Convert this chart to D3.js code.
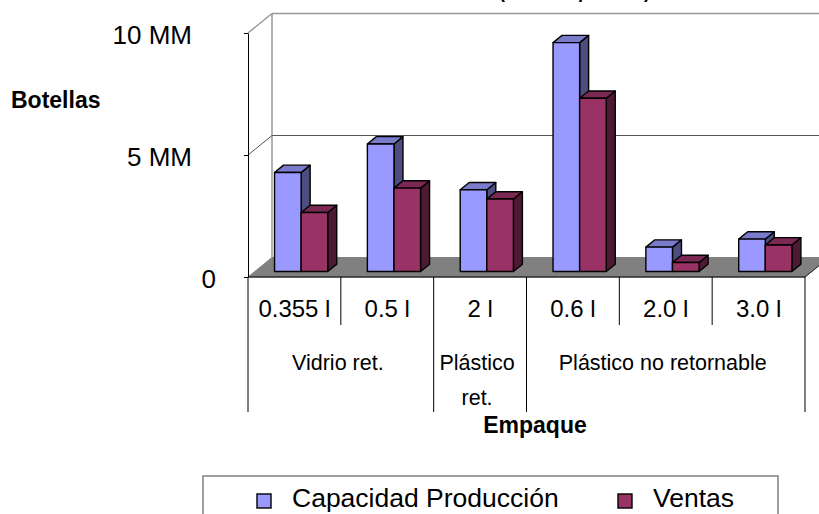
<!DOCTYPE html>
<html>
<head>
<meta charset="utf-8">
<script src="https://cdn.jsdelivr.net/npm/d3@7"></script>
<style>
  html, body { margin: 0; padding: 0; background: #fff; }
  svg { display: block; font-family: "Liberation Sans", Arial, sans-serif; }
</style>
</head>
<body>
<svg id="chart" width="819" height="514"></svg>
<script>
// Packaging formats (level 1) and their packaging families (level 2)
const categories = ["0.355 l", "0.5 l", "2 l", "0.6 l", "2.0 l", "3.0 l"];
const groupLabels = [["Vidrio ret."], ["Plástico", "ret."], ["Plástico no retornable"]];
const groupSpans = [2, 1, 3];

// Bottles per year
const seriesNames = ["Capacidad Producción", "Ventas"];
const capacidad = [4060000, 5230000, 3350000, 9380000, 1000000, 1330000];
const ventas = [2420000, 3420000, 2970000, 7100000, 370000, 1090000];

const yTicks = [0, 5000000, 10000000];

const FONT = "'Liberation Sans', Arial, sans-serif";
const seriesColors = {
  "Capacidad Producción": { front: "#9999ff", top: "#7b7bcc", side: "#4d4d80" },
  "Ventas": { front: "#993366", top: "#7a2952", side: "#4d1a33" }
};

const svg = d3.select("#chart");

// Front plane scales plus an oblique depth vector for the 3-D look
const x = d3.scaleBand().domain(categories).range([248, 805]).padding(0);
const xs = d3.scaleBand().domain(seriesNames).range([0, x.bandwidth()])
  .paddingInner(0).paddingOuter(0.745);
const y = d3.scaleLinear().domain([0, 10000000]).range([277, 33]);
const DX = 24, DY = -19.5;          // full floor depth
const F0 = 0.28, F1 = 0.655;        // bar front / back depth fraction

const proj = (px, v, f) => [px + f * DX, y(v) + f * DY];

// Chart title (runs off the top edge)
svg.append("text")
  .attr("x", 650).attr("y", -2.5)
  .attr("text-anchor", "end")
  .attr("font-size", 18).attr("font-weight", "bold")
  .text("Ventas anuales (botellas por año)");

// Back wall and left wall outlines
const x0 = x.range()[0], x1 = x.range()[1];
const wallTop = y(10000000) + DY;
svg.append("line")
  .attr("x1", x0 + DX).attr("y1", wallTop).attr("x2", x1 + DX).attr("y2", wallTop)
  .attr("stroke", "#999").attr("stroke-width", 1.5);
svg.append("line")
  .attr("x1", x0 + DX).attr("y1", wallTop).attr("x2", x0 + DX).attr("y2", y(0) + DY)
  .attr("stroke", "#999").attr("stroke-width", 1.5);
svg.append("line")
  .attr("x1", x0).attr("y1", y(10000000)).attr("x2", x0 + DX).attr("y2", wallTop)
  .attr("stroke", "#999").attr("stroke-width", 1.5);

// Gridline at 5 MM across the left and back walls
svg.selectAll("path.grid")
  .data(yTicks.filter(d => d > 0 && d < 10000000))
  .enter().append("path")
  .attr("class", "grid")
  .attr("fill", "none").attr("stroke", "#555").attr("stroke-width", 1)
  .attr("d", d => `M${x0},${y(d)}L${x0 + DX},${y(d) + DY}L${x1 + DX},${y(d) + DY}`);

// Floor
svg.append("path")
  .attr("d", `M${x0},${y(0)}L${x1},${y(0)}L${x1 + DX},${y(0) + DY}L${x0 + DX},${y(0) + DY}Z`)
  .attr("fill", "#808080").attr("stroke", "#808080").attr("stroke-width", 1);
svg.append("line")
  .attr("x1", x1).attr("y1", y(0)).attr("x2", x1 + DX).attr("y2", y(0) + DY)
  .attr("stroke", "#222").attr("stroke-width", 1);

// Bars: front, top and side faces
const rows = [];
categories.forEach((c, i) => {
  rows.push({ cat: c, s: seriesNames[0], v: capacidad[i] });
  rows.push({ cat: c, s: seriesNames[1], v: ventas[i] });
});

const bar = svg.selectAll("g.bar").data(rows).enter().append("g").attr("class", "bar")
  .attr("stroke", "#000").attr("stroke-width", 1.4).attr("stroke-linejoin", "round");

bar.each(function (d) {
  const g = d3.select(this);
  const xl = x(d.cat) + xs(d.s);
  const xr = xl + xs.bandwidth();
  const c = seriesColors[d.s];
  const poly = pts => "M" + pts.map(p => p.join(",")).join("L") + "Z";
  g.append("path").attr("fill", c.side).attr("d", poly([
    proj(xr, d.v, F0), proj(xr, 0, F0), proj(xr, 0, F1), proj(xr, d.v, F1)]));
  g.append("path").attr("fill", c.top).attr("d", poly([
    proj(xl, d.v, F0), proj(xr, d.v, F0), proj(xr, d.v, F1), proj(xl, d.v, F1)]));
  g.append("path").attr("fill", c.front).attr("d", poly([
    proj(xl, d.v, F0), proj(xr, d.v, F0), proj(xr, 0, F0), proj(xl, 0, F0)]));
});

// Value axis on the front edge
const yAxis = svg.append("g")
  .attr("transform", `translate(${x0},0)`)
  .call(d3.axisLeft(y).tickValues(yTicks).tickSize(4).tickSizeOuter(0).tickPadding(52)
    .tickFormat(d => d === 0 ? "0" : d3.format("d")(d / 1000000) + " MM"));
yAxis.select(".domain").attr("stroke", "#000");
yAxis.selectAll(".tick line").attr("stroke", "#000");
yAxis.selectAll(".tick text")
  .attr("font-family", FONT)
  .attr("font-size", 26).attr("fill", "#000")
  .attr("dy", "0.42em")
  .attr("dx", d => d === 0 ? 24 : 0);

// Category table below the floor
svg.append("line")
  .attr("x1", x0).attr("y1", y(0)).attr("x2", x1).attr("y2", y(0))
  .attr("stroke", "#000").attr("stroke-width", 1);

const tableTop = y(0), row1Bottom = 325, tableBottom = 412;
const boundaries = [0];
groupSpans.reduce((acc, s) => { boundaries.push(acc + s); return acc + s; }, 0);

categories.forEach((c, i) => {
  if (i > 0 && !boundaries.includes(i)) {
    svg.append("line").attr("x1", x(c)).attr("x2", x(c))
      .attr("y1", tableTop).attr("y2", row1Bottom)
      .attr("stroke", "#000").attr("stroke-width", 1);
  }
});
boundaries.forEach(b => {
  const bx = b < categories.length ? x(categories[b]) : x1;
  svg.append("line").attr("x1", bx).attr("x2", bx)
    .attr("y1", tableTop).attr("y2", tableBottom)
    .attr("stroke", "#000").attr("stroke-width", 1);
});

svg.selectAll("text.cat").data(categories).enter().append("text")
  .attr("class", "cat")
  .attr("x", d => x(d) + x.bandwidth() / 2).attr("y", 317)
  .attr("text-anchor", "middle").attr("font-size", 24)
  .text(d => d);

groupLabels.forEach((lines, gi) => {
  const a = x(categories[boundaries[gi]]);
  const b = boundaries[gi + 1] < categories.length ? x(categories[boundaries[gi + 1]]) : x1;
  const t = svg.append("text").attr("text-anchor", "middle").attr("font-size", 21.5);
  lines.forEach((ln, li) => {
    t.append("tspan").attr("x", (a + b) / 2 - 3).attr("y", 370 + li * 35).text(ln);
  });
});

// Axis titles
svg.append("text").attr("x", 11).attr("y", 108)
  .attr("font-size", 23).attr("font-weight", "bold").text("Botellas");
svg.append("text").attr("x", 535).attr("y", 433).attr("text-anchor", "middle")
  .attr("font-size", 23).attr("font-weight", "bold").text("Empaque");

// Legend
svg.append("rect").attr("x", 203).attr("y", 476).attr("width", 575).attr("height", 60)
  .attr("fill", "#fff").attr("stroke", "#808080").attr("stroke-width", 1.5);
const legendX = [257, 618];
seriesNames.forEach((s, i) => {
  svg.append("rect").attr("x", legendX[i]).attr("y", 494).attr("width", 14).attr("height", 14)
    .attr("fill", seriesColors[s].front).attr("stroke", "#000").attr("stroke-width", 1.4);
  svg.append("text").attr("x", legendX[i] + 35).attr("y", 507)
    .attr("font-size", 26.5).text(s);
});
</script>
</body>
</html>
